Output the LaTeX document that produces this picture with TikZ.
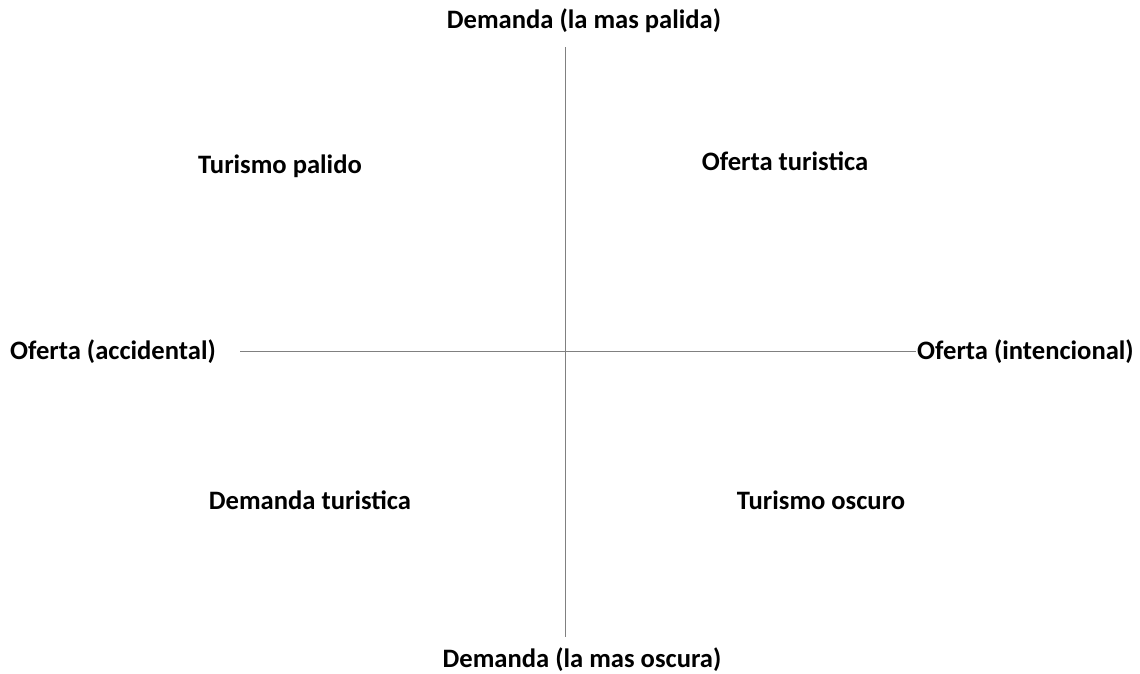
\documentclass[tikz,border=0pt]{standalone}
\usepackage{fontspec}
\setmainfont{Carlito}
\begin{document}
\begin{tikzpicture}[x=1pt,y=-1pt,every node/.style={font=\bfseries\fontsize{26.6}{30}\selectfont,inner sep=1pt}]
                \useasboundingbox (0,0) rectangle (1140,673);
                \node (dtop) at (584,21) {Demanda (la mas palida)};
                \node (dbot) at (582,660) {Demanda (la mas oscura)};
                \node (oacc) at (113,352) {Oferta (accidental)};
                \node[anchor=west] (oint) at (916,352) {Oferta (intencional)};
                \coordinate (vtop) at (565,47);
                \coordinate (vbot) at (565,637);
                \coordinate (hleft) at (240,351);
                \draw[gray,line width=1pt](vtop)--(vbot);
                \draw[gray,line width=1pt](hleft)--(hleft-|oint.west);
                \node (tpal) at (280,166) {Turismo palido};
                \node (otur) at (785,161) {Oferta turistica};
                \node (dtur) at (310,500) {Demanda turistica};
                \node (tosc) at (821,500) {Turismo oscuro};
            \end{tikzpicture}
\end{document}
